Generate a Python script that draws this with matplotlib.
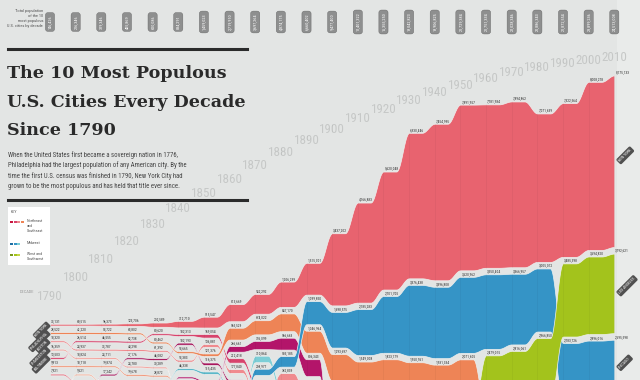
"""The 10 most populous U.S. cities every decade since 1790 - ribbon chart."""
import numpy as np
import matplotlib

matplotlib.use("Agg")
import matplotlib.pyplot as plt
from matplotlib import font_manager
from matplotlib.lines import Line2D
from matplotlib.patches import Rectangle
from matplotlib.transforms import blended_transform_factory

BG = "#E3E5E4"
installed = {f.name for f in font_manager.fontManager.ttflist}
NARROW = next((f for f in ["Liberation Sans Narrow", "Roboto Condensed", "Open Sans Condensed"]
               if f in installed), "DejaVu Sans")
SERIF = "DejaVu Serif"

decades = list(range(1790, 2011, 10))

pop_1790 = [("New York", 33131), ("Philadelphia", 28522), ("Boston", 18320), ("Charleston", 16359),
            ("Baltimore", 13503), ("Northern Liberties", 9913), ("Salem", 7921), ("Newport", 6716),
            ("Providence", 6380), ("Southwark", 5661)]
pop_1800 = [("New York", 60515), ("Philadelphia", 41220), ("Baltimore", 26514), ("Boston", 24937),
            ("Charleston", 18824), ("Northern Liberties", 10718), ("Southwark", 9621), ("Salem", 9457),
            ("Providence", 7614), ("Norfolk", 6926)]
pop_1810 = [("New York", 96373), ("Philadelphia", 53722), ("Baltimore", 46555), ("Boston", 33787),
            ("Charleston", 24711), ("Northern Liberties", 19874), ("New Orleans", 17242), ("Southwark", 13707),
            ("Salem", 12613), ("Albany", 10762)]
pop_1820 = [("New York", 123706), ("Philadelphia", 63802), ("Baltimore", 62738), ("Boston", 43298),
            ("New Orleans", 27176), ("Charleston", 24780), ("Northern Liberties", 19678), ("Southwark", 14713),
            ("Washington", 13247), ("Salem", 12731)]
pop_1830 = [("New York", 202589), ("Baltimore", 80620), ("Philadelphia", 80462), ("Boston", 61392),
            ("New Orleans", 46082), ("Charleston", 30289), ("Northern Liberties", 28872), ("Cincinnati", 24831),
            ("Albany", 24209), ("Southwark", 20740)]
pop_1840 = [("New York", 312710), ("Baltimore", 102313), ("New Orleans", 102193), ("Philadelphia", 93665),
            ("Boston", 93383), ("Cincinnati", 46338), ("Brooklyn", 36233), ("Northern Liberties", 34474),
            ("Albany", 33721), ("Charleston", 29261)]
pop_1850 = [("New York", 515547), ("Baltimore", 169054), ("Boston", 136881), ("Philadelphia", 121376),
            ("New Orleans", 116375), ("Cincinnati", 115435), ("Brooklyn", 96838), ("St. Louis", 77860),
            ("Spring Garden", 58894), ("Albany", 50763)]
pop_1860 = [("New York", 813669), ("Philadelphia", 565529), ("Brooklyn", 266661), ("Baltimore", 212418),
            ("Boston", 177840), ("New Orleans", 168675), ("Cincinnati", 161044), ("St. Louis", 160773),
            ("Chicago", 112172), ("Buffalo", 81129)]
pop_1870 = [("New York", 942292), ("Philadelphia", 674022), ("Brooklyn", 396099), ("St. Louis", 310864),
            ("Chicago", 298977), ("Baltimore", 267354), ("Boston", 250526), ("Cincinnati", 216239),
            ("New Orleans", 191418), ("San Francisco", 149473)]
pop_1880 = [("New York", 1206299), ("Philadelphia", 847170), ("Brooklyn", 566663), ("Chicago", 503185),
            ("Boston", 362839), ("St. Louis", 350518), ("Baltimore", 332313), ("Cincinnati", 255139),
            ("San Francisco", 233959), ("New Orleans", 216090)]
pop_1890 = [("New York", 1515301), ("Chicago", 1099850), ("Philadelphia", 1046964), ("Brooklyn", 806343),
            ("St. Louis", 451770), ("Boston", 448477), ("Baltimore", 434439), ("San Francisco", 298997),
            ("Cincinnati", 296908), ("Cleveland", 261353)]
pop_1900 = [("New York", 3437202), ("Chicago", 1698575), ("Philadelphia", 1293697), ("St. Louis", 575238),
            ("Boston", 560892), ("Baltimore", 508957), ("Cleveland", 381768), ("Buffalo", 352387),
            ("San Francisco", 342782), ("Cincinnati", 325902)]
pop_1910 = [("New York", 4766883), ("Chicago", 2185283), ("Philadelphia", 1549008), ("St. Louis", 687029),
            ("Boston", 670585), ("Cleveland", 560663), ("Baltimore", 558485), ("Pittsburgh", 533905),
            ("Detroit", 465766), ("Buffalo", 423715)]
pop_1920 = [("New York", 5620048), ("Chicago", 2701705), ("Philadelphia", 1823779), ("Detroit", 993078),
            ("Cleveland", 796841), ("St. Louis", 772897), ("Boston", 748060), ("Baltimore", 733826),
            ("Pittsburgh", 588343), ("Los Angeles", 576673)]
pop_1930 = [("New York", 6930446), ("Chicago", 3376438), ("Philadelphia", 1950961), ("Detroit", 1568662),
            ("Los Angeles", 1238048), ("Cleveland", 900429), ("St. Louis", 821960), ("Baltimore", 804874),
            ("Boston", 781188), ("Pittsburgh", 669817)]
pop_1940 = [("New York", 7454995), ("Chicago", 3396808), ("Philadelphia", 1931334), ("Detroit", 1623452),
            ("Los Angeles", 1504277), ("Cleveland", 878336), ("Baltimore", 859100), ("St. Louis", 816048),
            ("Boston", 770816), ("Pittsburgh", 671659)]
pop_1950 = [("New York", 7891957), ("Chicago", 3620962), ("Philadelphia", 2071605), ("Los Angeles", 1970358),
            ("Detroit", 1849568), ("Baltimore", 949708), ("Cleveland", 914808), ("St. Louis", 856796),
            ("Washington", 802178), ("Boston", 801444)]
pop_1960 = [("New York", 7781984), ("Chicago", 3550404), ("Los Angeles", 2479015), ("Philadelphia", 2002512),
            ("Detroit", 1670144), ("Baltimore", 939024), ("Houston", 938219), ("Cleveland", 876050),
            ("Washington", 763956), ("St. Louis", 750026)]
pop_1970 = [("New York", 7894862), ("Chicago", 3366957), ("Los Angeles", 2816061), ("Philadelphia", 1948609),
            ("Detroit", 1511482), ("Houston", 1232802), ("Baltimore", 905759), ("Dallas", 844401),
            ("Washington", 756510), ("Cleveland", 750903)]
pop_1980 = [("New York", 7071639), ("Chicago", 3005072), ("Los Angeles", 2966850), ("Philadelphia", 1688210),
            ("Houston", 1595138), ("Detroit", 1203339), ("Dallas", 904078), ("San Diego", 875538),
            ("Phoenix", 789704), ("Baltimore", 786775)]
pop_1990 = [("New York", 7322564), ("Los Angeles", 3485398), ("Chicago", 2783726), ("Houston", 1630553),
            ("Philadelphia", 1585577), ("San Diego", 1110549), ("Detroit", 1027974), ("Dallas", 1006877),
            ("Phoenix", 983403), ("San Antonio", 935933)]
pop_2000 = [("New York", 8008278), ("Los Angeles", 3694820), ("Chicago", 2896016), ("Houston", 1953631),
            ("Philadelphia", 1517550), ("Phoenix", 1321045), ("San Diego", 1223400), ("Dallas", 1188580),
            ("San Antonio", 1144646), ("Detroit", 951270)]
pop_2010 = [("New York", 8175133), ("Los Angeles", 3792621), ("Chicago", 2695598), ("Houston", 2099451),
            ("Philadelphia", 1526006), ("Phoenix", 1445632), ("San Antonio", 1327407), ("San Diego", 1307402),
            ("Dallas", 1197816), ("San Jose", 945942)]

ranked = [pop_1790, pop_1800, pop_1810, pop_1820, pop_1830, pop_1840, pop_1850, pop_1860,
          pop_1870, pop_1880, pop_1890, pop_1900, pop_1910, pop_1920, pop_1930, pop_1940,
          pop_1950, pop_1960, pop_1970, pop_1980, pop_1990, pop_2000, pop_2010]

northeast = {"New York": "#E8636F", "Philadelphia": "#EE8456", "Brooklyn": "#B3156A",
             "Baltimore": "#D8436C", "Boston": "#F08A8E", "Charleston": "#F4A7A2",
             "New Orleans": "#A8175E", "Northern Liberties": "#F29C80", "Salem": "#E97B8A",
             "Newport": "#F3B09A", "Providence": "#DD5C7C", "Southwark": "#F6B8A4",
             "Norfolk": "#EFA0A8", "Albany": "#F3A38C", "Washington": "#E36F6F",
             "Spring Garden": "#F6B6A0", "Pittsburgh": "#C93C63"}
midwest = {"Chicago": "#3594C6", "St. Louis": "#7DCED6", "Cincinnati": "#5BB8C9",
           "Buffalo": "#9BD7E0", "Cleveland": "#4FA8D6", "Detroit": "#1E6FA3"}
west = {"Los Angeles": "#A3C31C", "San Francisco": "#7DB534", "Houston": "#C5D64A",
        "Dallas": "#D0DC6A", "San Diego": "#8CBB2A", "Phoenix": "#B9CF3A",
        "San Antonio": "#D8E27F", "San Jose": "#9DC84A"}
colors = {**northeast, **midwest, **west}

# canvas geometry, in pixels of the 640x380 picture
X0, DX = 50, 25.65        # x of 1790, px per decade
CY, SY = 362, 21.0        # row of the stream centre, px per million people
GAP = 6.5 / SY
MIN_T = 1.8 / SY
FLAT = 0.5


def ypx(p):
    return (CY - p) / SY


def fx(p):
    return p / 640


def fy(p):
    return 1 - p / 380


fig = plt.figure(figsize=(6.4, 3.8), dpi=100, facecolor=BG)
ax = fig.add_axes([0, 0, 1, 1])
ax.set_facecolor(BG)
ax.set_xlim(-X0 / DX, (640 - X0) / DX)
ax.set_ylim(ypx(380), ypx(0))
ax.axis("off")
n = len(decades)

# lighter strip right of 2010
ax.add_patch(Rectangle(((617 - X0) / DX, ypx(380)), 5, 30, fc="#E9EBEA", ec="none", zorder=0.5))

# centred stack per decade
layouts, below = [], []
for ranks in ranked:
    th = [max(v / 1e6, MIN_T) for _, v in ranks]
    top = (sum(th) + GAP * (len(th) - 1)) / 2
    pos = {}
    for (name, v), t in zip(ranks, th):
        pos[name] = (top - t, top, v)
        top -= t + GAP
    layouts.append(pos)
    below.append(top)

u = np.linspace(0, 1, 30)
ease = (1 - np.cos(np.pi * u)) / 2


def add(xs, lo, hi, xa, xb, la, lb, ha, hb):
    xs.extend(xa + (xb - xa) * u)
    lo.extend(la + (lb - la) * ease)
    hi.extend(ha + (hb - ha) * ease)


peak = {c: max(l[c][2] for l in layouts if c in l) for c in colors}
for city in sorted(colors, key=lambda c: peak[c]):
    idx = [i for i in range(n) if city in layouts[i]]
    runs, cur = [], [idx[0]]
    for i in idx[1:]:
        if i == cur[-1] + 1:
            cur.append(i)
        else:
            runs.append(cur); cur = [i]
    runs.append(cur)
    for run in runs:
        xs, lo, hi = [], [], []
        b0, t0, _ = layouts[run[0]][city]
        if run[0] > 0:
            j = run[0] - 1
            add(xs, lo, hi, j + FLAT, j + 1, below[j] - (t0 - b0), b0, below[j], t0)
        for i in run:
            b, t, _ = layouts[i][city]
            if i == n - 1:
                xs.append(i); lo.append(b); hi.append(t)
                continue
            add(xs, lo, hi, i, i + FLAT, b, b, t, t)
            if i + 1 in run:
                b1, t1, _ = layouts[i + 1][city]
                add(xs, lo, hi, i + FLAT, i + 1, b, b1, t, t1)
            else:
                add(xs, lo, hi, i + FLAT, i + 1, b, below[i + 1] - (t - b), t, below[i + 1])
        ax.fill_between(xs, lo, hi, color=colors[city], ec="#EEF0EF", lw=0.5,
                        zorder=3 + peak[city] / 1e8)

# decade gridlines
for i in range(n):
    top_px = 200 if X0 + DX * i < 250 else 40
    ax.plot([i, i], [ypx(380), ypx(top_px)], color="#EDEFEE", lw=0.7, zorder=1)
    ax.plot([i, i], [ypx(380), ypx(top_px)], color="black", alpha=0.05, lw=0.5, zorder=9)

# year labels along a gentle curve
for i, yr in enumerate(decades):
    ax.text(i, ypx(297 - 19.6 * i + 0.397 * i * i), str(yr), ha="center", va="center",
            fontsize=9.4, color="#C6C8C7", family=NARROW, zorder=2)

# value labels (only those that fall inside the picture)
for i, ranks in enumerate(ranked):
    for name, v in ranks:
        b, t, _ = layouts[i][name]
        if t < ypx(376):
            continue
        ax.text(i + 0.04, t + 1.0 / SY, f"{v:,}", fontsize=2.6, family=NARROW,
                color="#333333", ha="left", va="bottom", zorder=11)

# total population tags on top
trans = blended_transform_factory(ax.transData, fig.transFigure)
for i, ranks in enumerate(ranked):
    total = sum(v for _, v in ranks)
    ax.text(i, fy(22), f"{total:,}", rotation=90, ha="center", va="center", fontsize=3.1,
            family=NARROW, color="white", transform=trans, zorder=12,
            bbox=dict(boxstyle="round,pad=0.6", fc="#8E8F8F", ec="#666666", lw=0.3))

# city name tags, left (1790) and right (2010)
for name, v in pop_1790:
    b, t, _ = layouts[0][name]
    if (b + t) / 2 < ypx(366):
        continue
    ax.text(-0.1, (b + t) / 2, name.upper(), rotation=45, rotation_mode="anchor", ha="right",
            va="center", fontsize=2.8, family=NARROW, color="white", zorder=12,
            bbox=dict(boxstyle="round,pad=0.4", fc="#505050", ec="none"))
for name, v in pop_2010[:3]:
    b, t, _ = layouts[-1][name]
    ax.text(n - 1 + 0.2, (b + t) / 2, name.upper(), rotation=45, rotation_mode="anchor", ha="left",
            va="center", fontsize=2.8, family=NARROW, color="white", zorder=12,
            bbox=dict(boxstyle="round,pad=0.4", fc="#505050", ec="none"))

# header block
fig.text(fx(43), fy(9), "Total population\nof the 10\nmost populous\nU.S. cities by decade",
         ha="right", va="top", fontsize=3.2, family=NARROW, color="#555555", linespacing=1.3)
for py in (49, 200):
    fig.add_artist(Line2D([fx(8), fx(247)], [fy(py), fy(py)], lw=2.2, color="#2B2B2B"))
for py, line in zip((78, 107, 135), ("The 10 Most Populous", "U.S. Cities Every Decade", "Since 1790")):
    fig.text(fx(7), fy(py), line, family=SERIF, weight="bold", fontsize=12.6, color="#2A2A2A",
             va="baseline", ha="left")
para = ["When the United States first became a sovereign nation in 1776,",
        "Philadelphia had the largest population of any American city. By the",
        "time the first U.S. census was finished in 1790, New York City had",
        "grown to be the most populous and has held that title ever since."]
for k, line in enumerate(para):
    fig.text(fx(8), fy(155 + 10.6 * k), line, family=NARROW, fontsize=4.9, color="#444444",
             va="center", ha="left")

# key
fig.add_artist(Rectangle((fx(8), fy(265)), fx(42), 58 / 380, fc="white", ec="none"))
fig.text(fx(11), fy(212), "KEY", fontsize=3, family=NARROW, color="#555555", va="center")
key_rows = [(222, ["#C8173F", "#D8436C", "#F08A8E", "#EE8456"], "Northeast\nand\nSoutheast"),
            (244, ["#1E6FA3", "#3594C6", "#7DCED6"], "Midwest"),
            (255, ["#7A9A1A", "#A3C31C", "#C5D64A"], "West and\nSouthwest")]
for py, cols, label in key_rows:
    for k, c in enumerate(cols):
        fig.add_artist(Rectangle((fx(10 + 3.6 * k), fy(py + 0.9)), fx(3), 1.8 / 380, fc=c, ec="none"))
    fig.text(fx(27), fy(py - 3), label, fontsize=3, family=NARROW, color="#555555", va="top",
             linespacing=1.35)
fig.text(fx(27), fy(292), "DECADE", fontsize=3.2, family=NARROW, color="#9A9A9A",
         ha="center", va="center")

fig.savefig("out.png", dpi=100, facecolor=BG)
